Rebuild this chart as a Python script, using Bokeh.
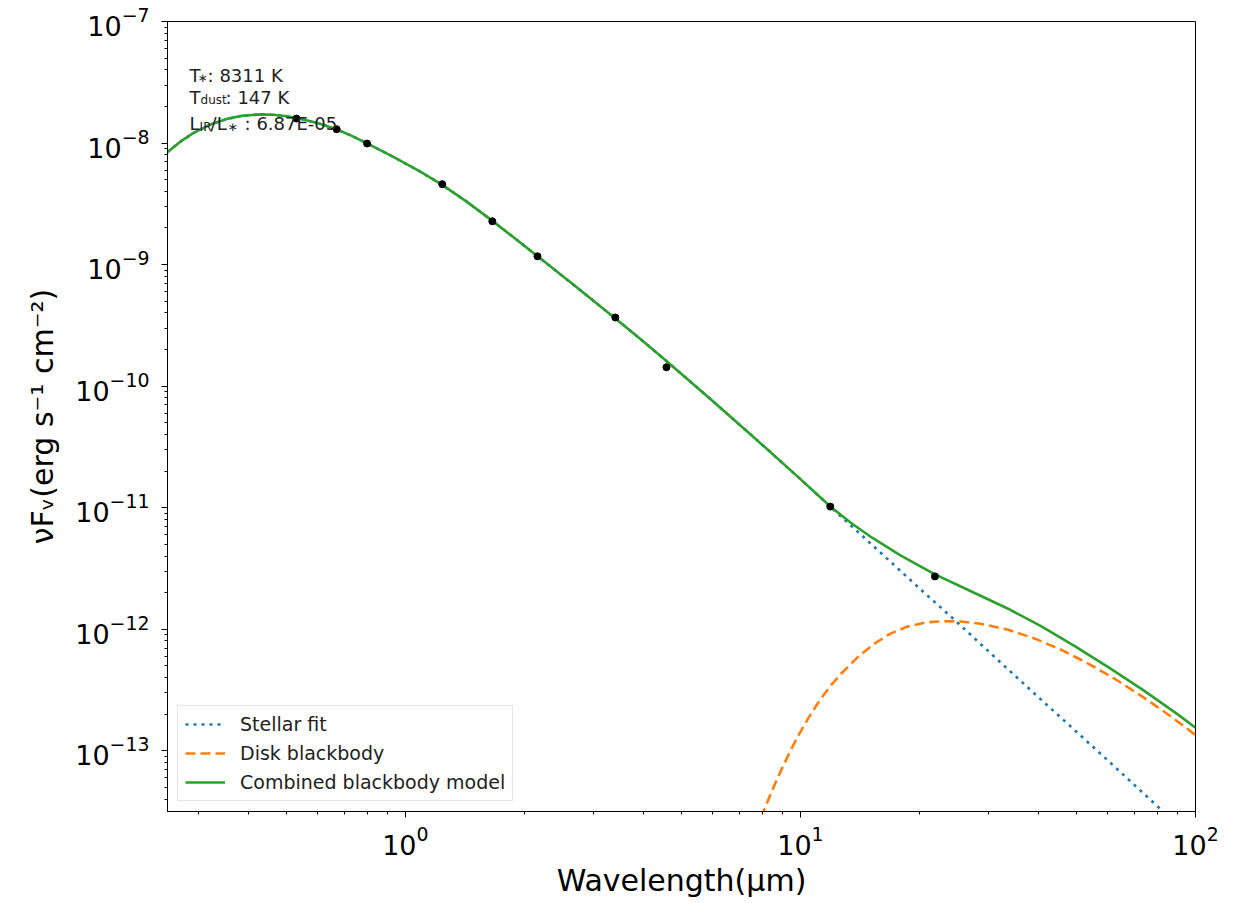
from bokeh.plotting import figure
from bokeh.models import Label, Legend, LegendItem
from bokeh.embed import file_html
from bokeh.resources import INLINE

# ---- data ----
wave_obs = [0.53, 0.67, 0.80, 1.24, 1.66, 2.16, 3.40, 4.58, 11.9, 21.9]
flux_obs = [1.59e-8, 1.30e-8, 9.91e-9, 4.59e-9, 2.27e-9, 1.17e-9,
            3.67e-10, 1.43e-10, 1.02e-11, 2.72e-12]

wave_comb = [0.25, 0.2694, 0.2911, 0.3208, 0.3536, 0.3889, 0.4294, 0.4633,
             0.5016, 0.5422, 0.6020, 0.6716, 0.7340, 0.800, 0.9324, 1.0914,
             1.2334, 1.4268, 1.667, 1.8987, 2.162, 2.7093, 3.401, 3.935,
             4.580, 5.917, 7.617, 10.0, 11.91, 13.383, 15.22, 17.91, 21.90,
             27.01, 33.55, 40.85, 49.71, 60.54, 73.74, 89.80, 100.0]
flux_comb = [8.42e-9, 1.026e-8, 1.212e-8, 1.418e-8, 1.580e-8, 1.682e-8,
             1.721e-8, 1.708e-8, 1.660e-8, 1.583e-8, 1.454e-8, 1.293e-8,
             1.141e-8, 9.934e-9, 7.692e-9, 5.810e-9, 4.576e-9, 3.311e-9,
             2.267e-9, 1.633e-9, 1.170e-9, 6.531e-10, 3.602e-10, 2.438e-10,
             1.607e-10, 7.841e-11, 3.802e-11, 1.716e-11, 1.021e-11,
             7.540e-12, 5.631e-12, 4.051e-12, 2.827e-12, 2.053e-12,
             1.474e-12, 1.050e-12, 7.200e-13, 4.809e-13, 3.152e-13,
             2.011e-13, 1.546e-13]

wave_star = [0.25, 0.2694, 0.2911, 0.3208, 0.3536, 0.3889, 0.4294, 0.4633,
             0.5016, 0.5422, 0.6020, 0.6716, 0.7340, 0.800, 0.9324, 1.0914,
             1.2334, 1.4268, 1.667, 1.8987, 2.162, 2.7093, 3.401, 3.935,
             4.580, 5.917, 7.617, 10.0, 11.91, 13.383, 15.22, 17.91, 20.33,
             24.69, 32.09, 40.51, 57.49, 81.53, 100.0]
flux_star = [8.42e-9, 1.026e-8, 1.212e-8, 1.418e-8, 1.580e-8, 1.682e-8,
             1.721e-8, 1.708e-8, 1.660e-8, 1.583e-8, 1.454e-8, 1.293e-8,
             1.141e-8, 9.934e-9, 7.692e-9, 5.810e-9, 4.576e-9, 3.311e-9,
             2.267e-9, 1.633e-9, 1.170e-9, 6.531e-10, 3.602e-10, 2.438e-10,
             1.607e-10, 7.841e-11, 3.802e-11, 1.716e-11, 1.017e-11,
             7.193e-12, 4.905e-12, 3.020e-12, 2.07e-12, 1.173e-12, 5.33e-13,
             2.662e-13, 9.45e-14, 3.315e-14, 1.80e-14]

wave_disk = [7.692, 7.920, 8.075, 8.298, 8.557, 8.950, 9.434, 9.884, 10.40,
             10.913, 11.46, 12.018, 12.63, 13.92, 15.33, 16.90, 18.62, 20.93,
             23.07, 25.46, 28.64, 33.55, 39.26, 45.96, 53.79, 62.98, 73.74,
             86.30, 100.0]
flux_disk = [2.173e-14, 2.752e-14, 3.21e-14, 3.975e-14, 5.038e-14, 6.990e-14,
             1.000e-13, 1.339e-13, 1.785e-13, 2.297e-13, 2.884e-13, 3.531e-13,
             4.251e-13, 5.833e-13, 7.55e-13, 9.192e-13, 1.050e-12, 1.141e-12,
             1.163e-12, 1.156e-12, 1.109e-12, 9.897e-13, 8.361e-13,
             6.710e-13, 5.167e-13, 3.839e-13, 2.761e-13, 1.930e-13,
             1.346e-13]

series_labels = ["Stellar fit", "Disk blackbody", "Combined blackbody model"]
info_values = ["8311 K", "147 K", "6.87E-05"]

FONT = "DejaVu Sans"

p = figure(x_axis_type="log", y_axis_type="log",
           x_range=(0.25, 100), y_range=(10 ** -13.5, 1e-7),
           frame_width=1028, frame_height=790,
           min_border_left=167, min_border_top=21, min_border_right=40,
           min_border_bottom=60,
           output_backend="svg", toolbar_location=None,
           background_fill_color="white", border_fill_color="white")

p.xgrid.visible = False
p.ygrid.visible = False
p.outline_line_color = "black"
p.outline_line_width = 1
p.outline_line_alpha = 1.0

for ax in (p.xaxis[0], p.yaxis[0]):
    ax.axis_line_color = "black"
    ax.major_tick_out = 6
    ax.major_tick_in = 0
    ax.minor_tick_out = 3
    ax.minor_tick_in = 0
    ax.major_tick_line_color = "black"
    ax.minor_tick_line_color = "black"
    ax.major_label_text_font = FONT
    ax.major_label_text_font_size = "27px"
    ax.major_label_text_color = "black"
    ax.axis_label_text_font = FONT
    ax.axis_label_text_font_size = "30px"
    ax.axis_label_text_font_style = "normal"
    ax.axis_label_text_color = "black"

p.xaxis.axis_label = "Wavelength(μm)"
p.xaxis.major_label_standoff = 8
p.xaxis.axis_label_standoff = 5
p.yaxis.axis_label = "νFᵥ(erg s⁻¹ cm⁻²)"
p.yaxis.major_label_standoff = 12
p.yaxis.axis_label_standoff = 12

r_star = p.line(wave_star, flux_star, line_color="#1f77b4", line_width=2.6,
                line_dash="3 5")
r_disk = p.line(wave_disk, flux_disk, line_color="#ff7f0e", line_width=2.6,
                line_dash="10 5")
r_comb = p.line(wave_comb, flux_comb, line_color="#2ca02c", line_width=2.6)
p.scatter(wave_obs, flux_obs, size=7, color="black")

legend = Legend(items=[LegendItem(label=series_labels[0], renderers=[r_star]),
                       LegendItem(label=series_labels[1], renderers=[r_disk]),
                       LegendItem(label=series_labels[2], renderers=[r_comb])],
                location="bottom_left", margin=10, padding=7, spacing=7,
                glyph_width=40, glyph_height=20, label_height=20,
                label_standoff=15, label_text_font=FONT,
                label_text_font_size="19px", label_text_color="#222222",
                border_line_color="#cccccc", border_line_width=1,
                background_fill_color="white", background_fill_alpha=0.85)
p.add_layout(legend)

# annotation block (top-left)
ax_x = 0.2844
base_y = [3.149e-8, 2.08e-8, 1.265e-8]
LIFT = 7


def put(text, y, dx, size, dy=0):
    p.add_layout(Label(x=ax_x, y=y, x_offset=dx, y_offset=dy + LIFT,
                       text=text, text_font=FONT, text_font_size=size,
                       text_color="#222222", text_baseline="alphabetic",
                       text_align="left"))


put("T", base_y[0], 0, "18px")
put("∗", base_y[0], 8, "12px", -3)
put(": " + info_values[0], base_y[0], 18, "18px")

put("T", base_y[1], 0, "18px")
put("dust", base_y[1], 11, "12px", -3)
put(": " + info_values[1], base_y[1], 36, "18px")

put("L", base_y[2], 0, "18px")
put("IR", base_y[2], 10, "12px", -3)
put("/L", base_y[2], 21, "18px")
put("∗", base_y[2], 38, "12px", -3)
put(": " + info_values[2], base_y[2], 55, "18px")

open("out.html", "w").write(file_html(p, INLINE))
